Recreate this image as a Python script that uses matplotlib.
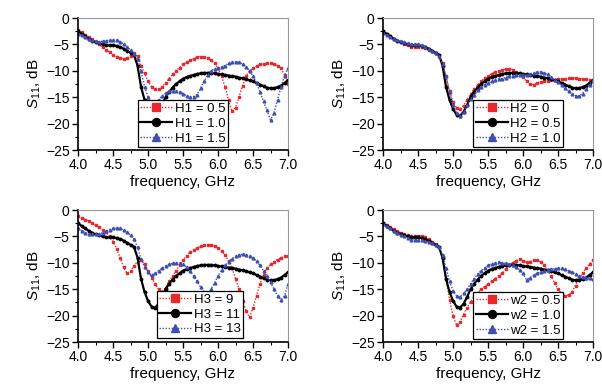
import numpy as np
import matplotlib
matplotlib.use('Agg')
import matplotlib.pyplot as plt
from matplotlib.ticker import MultipleLocator, FormatStrFormatter

plt.rcParams['font.family'] = ['Liberation Sans', 'DejaVu Sans']
plt.rcParams['mathtext.fontset'] = 'custom'
plt.rcParams['mathtext.rm'] = 'Liberation Sans'
plt.rcParams['mathtext.it'] = 'Liberation Sans:italic'

# frequency grid, GHz (0.05 step)
freq = np.round(np.linspace(4.0, 7.0, 61), 2)

# reference curve (black), shared by all four panels
s_ref = [-2.5, -3.0, -3.5, -3.9, -4.3, -4.6, -4.8, -5.0, -5.2, -5.2,
         -5.2, -5.3, -5.5, -5.8, -6.2, -6.6, -7.0, -9.0, -13.0, -15.5,
         -17.2, -18.3, -18.5, -17.8, -16.5, -15.0, -14.0, -13.2, -12.5, -12.0,
         -11.5, -11.2, -11.0, -10.8, -10.6, -10.5, -10.4, -10.4, -10.4, -10.5,
         -10.6, -10.7, -10.8, -10.9, -11.0, -11.1, -11.3, -11.4, -11.6, -11.8,
         -12.0, -12.3, -12.6, -12.9, -13.2, -13.3, -13.3, -13.1, -12.8, -12.3,
         -11.8]

# panel a: H1
h1_05 = [-2.3, -2.7, -3.2, -3.6, -4.0, -4.5, -5.0, -5.5, -6.0, -6.5,
         -7.0, -7.3, -7.6, -7.7, -7.6, -7.2, -6.6, -7.2, -9.0, -10.5,
         -12.0, -13.0, -13.5, -13.5, -13.0, -12.3, -11.5, -10.7, -10.0, -9.4,
         -8.8, -8.4, -8.0, -7.7, -7.4, -7.3, -7.3, -7.5, -8.0, -8.6,
         -9.5, -11.0, -13.0, -15.5, -17.7, -17.0, -15.0, -12.8, -11.0, -10.0,
         -9.5, -9.1, -8.8, -8.7, -8.6, -8.6, -8.7, -9.0, -9.5, -10.8,
         -12.5]
h1_15 = [-3.0, -3.3, -3.6, -3.9, -4.2, -4.4, -4.5, -4.4, -4.3, -4.2,
         -4.1, -4.2, -4.5, -4.9, -5.5, -6.1, -6.8, -7.8, -10.0, -13.0,
         -15.0, -16.0, -16.0, -15.5, -14.8, -14.2, -13.9, -13.8, -13.8, -14.0,
         -14.3, -14.7, -15.0, -14.9, -14.5, -13.3, -12.0, -10.8, -10.0, -9.6,
         -9.5, -9.3, -9.0, -8.6, -8.3, -8.3, -8.4, -8.7, -9.2, -10.0,
         -11.0, -12.3, -14.0, -15.8, -17.5, -19.3, -18.0, -15.5, -13.0, -11.0,
         -9.5]

# panel b: H2
h2_0 = [-2.5, -3.0, -3.5, -3.9, -4.3, -4.6, -4.9, -5.2, -5.4, -5.5,
        -5.5, -5.5, -5.7, -6.0, -6.3, -6.6, -7.0, -8.5, -11.0, -13.8,
        -16.0, -17.0, -17.3, -16.6, -15.5, -14.4, -13.5, -12.7, -12.0, -11.4,
        -11.0, -10.6, -10.2, -10.0, -9.8, -9.7, -9.6, -9.8, -10.3, -10.7,
        -11.2, -12.0, -12.5, -12.6, -12.3, -12.1, -12.0, -11.9, -11.8, -11.7,
        -11.6, -11.5, -11.5, -11.4, -11.4, -11.4, -11.5, -11.5, -11.6, -11.7,
        -11.8]
h2_10 = [-2.8, -3.2, -3.6, -3.9, -4.2, -4.4, -4.6, -4.8, -4.9, -5.0,
         -5.0, -5.2, -5.5, -5.9, -6.3, -6.7, -7.2, -8.8, -11.0, -14.0,
         -16.5, -18.0, -18.5, -17.8, -16.5, -15.4, -14.5, -13.7, -13.0, -12.6,
         -12.3, -12.0, -11.8, -11.6, -11.5, -11.3, -11.0, -10.9, -10.8, -10.8,
         -10.8, -10.8, -10.6, -10.4, -10.2, -10.2, -10.4, -10.7, -11.2, -11.7,
         -12.2, -12.7, -13.2, -13.8, -14.3, -14.7, -14.8, -14.3, -13.5, -12.6,
         -11.8]

# panel c: H3
h3_9 = [-1.2, -1.5, -1.8, -2.1, -2.5, -2.9, -3.3, -3.7, -4.2, -5.0,
        -6.0, -7.3, -9.0, -10.8, -12.0, -11.6, -10.6, -9.8, -9.5, -10.2,
        -11.5, -12.8, -14.0, -15.0, -15.5, -14.8, -13.5, -12.5, -11.5, -10.5,
        -9.5, -8.7, -8.0, -7.5, -7.2, -6.9, -6.7, -6.6, -6.6, -6.8,
        -7.2, -7.8, -8.5, -9.6, -11.0, -13.0, -15.0, -17.2, -19.2, -20.3,
        -18.5, -16.2, -14.0, -12.3, -11.0, -10.3, -9.8, -9.4, -9.0, -8.8,
        -8.8]
h3_13 = [-3.5, -3.9, -4.3, -4.5, -4.6, -4.6, -4.5, -4.3, -4.0, -3.7,
         -3.5, -3.4, -3.5, -3.8, -4.2, -4.8, -5.5, -7.0, -9.2, -10.8,
         -11.8, -12.3, -12.0, -11.5, -11.0, -10.6, -10.3, -10.1, -10.0, -10.1,
         -10.3, -10.8, -11.5, -12.5, -13.5, -14.6, -15.5, -15.8, -15.0, -13.8,
         -12.5, -11.4, -10.5, -9.8, -9.2, -8.8, -8.5, -8.4, -8.5, -8.7,
         -9.0, -9.7, -10.5, -11.5, -12.5, -13.7, -15.0, -16.2, -17.0, -16.3,
         -14.0]

# panel d: w2
w2_05 = [-2.5, -2.9, -3.3, -3.6, -3.9, -4.3, -4.6, -4.8, -4.9, -4.9,
         -4.9, -4.9, -5.1, -5.5, -6.0, -6.5, -7.0, -9.0, -13.0, -17.0,
         -20.0, -21.8, -21.2, -19.8, -18.5, -17.4, -16.5, -15.7, -15.0, -14.5,
         -14.0, -13.5, -13.0, -12.5, -12.0, -11.2, -10.5, -10.0, -9.6, -9.3,
         -9.6, -9.9, -9.8, -9.5, -9.5, -9.8, -10.5, -11.4, -12.5, -13.8,
         -15.0, -15.8, -16.2, -16.1, -15.5, -14.3, -13.0, -12.0, -11.0, -10.2,
         -9.5]
w2_15 = [-2.6, -3.1, -3.5, -3.9, -4.3, -4.7, -5.0, -5.3, -5.6, -5.6,
         -5.6, -5.6, -5.8, -6.0, -6.3, -6.6, -7.0, -8.5, -11.0, -13.5,
         -15.3, -16.3, -16.5, -15.8, -15.0, -14.0, -13.0, -12.2, -11.5, -11.0,
         -10.5, -10.2, -10.0, -9.9, -10.0, -10.1, -10.3, -10.5, -10.8, -11.3,
         -12.0, -13.2, -12.8, -12.4, -12.0, -11.7, -11.5, -11.3, -11.2, -11.1,
         -11.0, -11.0, -11.2, -11.5, -11.8, -12.1, -12.5, -12.7, -12.8, -12.9,
         -13.0]

panels = [
    (['H1 = 0.5', 'H1 = 1.0', 'H1 = 1.5'], [h1_05, s_ref, h1_15], (0.285, 0.02)),
    (['H2 = 0', 'H2 = 0.5', 'H2 = 1.0'], [h2_0, s_ref, h2_10], (0.43, 0.02)),
    (['H3 = 9', 'H3 = 11', 'H3 = 13'], [h3_9, s_ref, h3_13], (0.375, 0.03)),
    (['w2 = 0.5', 'w2 = 1.0', 'w2 = 1.5'], [w2_05, s_ref, w2_15], (0.43, 0.02)),
]

red = '#e8282c'
blue = '#3d4fb5'
styles = [dict(color=red, ls=(0, (1, 1.2)), marker='s', lw=1.0, ms=1.8),
          dict(color='black', ls='-', marker='o', lw=1.6, ms=1.8),
          dict(color=blue, ls=(0, (1, 1.2)), marker='^', lw=1.0, ms=2.0)]

fig = plt.figure(figsize=(6.02, 3.85), dpi=100)
lefts = [78 / 602, 383 / 602]
bottoms = [1 - 150 / 385, 1 - 342 / 385]
w, h = 210 / 602, 132 / 385

for i, (labels, curves, anchor) in enumerate(panels):
    ax = fig.add_axes([lefts[i % 2], bottoms[i // 2], w, h])
    for lab, y, st in zip(labels, curves, styles):
        ax.plot(freq, y, label=lab, **st)
    ax.set_xlim(4.0, 7.0)
    ax.set_ylim(-25, 0)
    ax.xaxis.set_major_locator(MultipleLocator(0.5))
    ax.xaxis.set_minor_locator(MultipleLocator(0.25))
    ax.xaxis.set_major_formatter(FormatStrFormatter('%.1f'))
    ax.yaxis.set_major_locator(MultipleLocator(5))
    ax.yaxis.set_minor_locator(MultipleLocator(2.5))
    ax.tick_params(which='major', direction='out', length=4, width=1, labelsize=10, pad=2)
    ax.tick_params(which='minor', direction='out', length=2.5, width=0.8)
    for s in ['top', 'right']:
        ax.spines[s].set_color('#999999')
        ax.spines[s].set_linewidth(0.8)
    for s in ['left', 'bottom']:
        ax.spines[s].set_linewidth(1.2)
    ax.set_ylabel('$S_{11}$, dB', fontsize=11, labelpad=2)
    ax.set_xlabel('frequency, GHz', fontsize=11, labelpad=2)
    leg = ax.legend(loc='lower left', bbox_to_anchor=anchor, fontsize=9.5,
                    fancybox=False, edgecolor='black', framealpha=1,
                    markerscale=3.2, handlelength=2.4, handletextpad=0.2,
                    borderpad=0.2, labelspacing=0.2, borderaxespad=0)
    leg.get_frame().set_linewidth(0.9)
    if i == 2:
        fig.canvas.draw()
        ax.get_xticklabels()[0].set_fontweight('bold')

fig.savefig('out.png', dpi=100)
